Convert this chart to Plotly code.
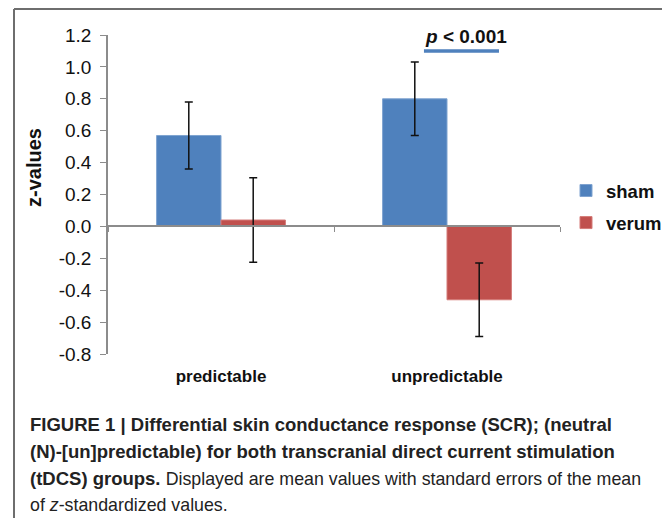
import plotly.graph_objects as go

categories = ["predictable", "unpredictable"]
sham_values = [0.57, 0.80]
sham_errors = [0.21, 0.23]
verum_values = [0.04, -0.46]
verum_errors = [0.265, 0.23]
y_tickvals = [1.2, 1.0, 0.8, 0.6, 0.4, 0.2, 0.0, -0.2, -0.4, -0.6, -0.8]
y_ticktext = ["1.2", "1.0", "0.8", "0.6", "0.4", "0.2", "0.0", "-0.2", "-0.4", "-0.6", "-0.8"]
y_title = "<b>z-values</b>"
sig_text = "<b><i>p</i> < 0.001</b>"
sig_level = 1.1
REG = "<span style='font-size:17.8px'>"
caption_lines = [
    "<b>FIGURE 1 | Differential skin conductance response (SCR); (neutral</b>",
    "<b>(N)-[un]predictable) for both transcranial direct current stimulation</b>",
    "<b>(tDCS) groups.</b> " + REG + "Displayed are mean values with standard errors of the mean</span>",
    REG + "of <i>z</i>-standardized values.</span>",
]

FONT = "Liberation Sans, Arial, sans-serif"

# the page body has an 8px margin, so the figure is 8px smaller than the window
PAGE_OFF = 8
PLOT_L, PLOT_T, PLOT_W, PLOT_H = 108, 35, 452, 319
FIG_W, FIG_H = 670 - PAGE_OFF, 519 - PAGE_OFF


def px(xr):
    return (xr - PLOT_L) / PLOT_W


def py(yr):
    return (PLOT_T + PLOT_H - yr) / PLOT_H


fig = go.Figure()
fig.add_trace(go.Bar(
    x=categories, y=sham_values, name="sham", marker_color="#4F81BD",
    marker_line=dict(color="#7FA3D0", width=1),
    error_y=dict(type="data", array=sham_errors, color="#111", thickness=1.5, width=4),
    legendgroup="a",
))
fig.add_trace(go.Bar(
    x=categories, y=verum_values, name="verum", marker_color="#C0504D",
    marker_line=dict(color="#D47B78", width=1),
    error_y=dict(type="data", array=verum_errors, color="#111", thickness=1.5, width=4),
    legendgroup="b",
))
# helper trace for the axis line at zero with boundary ticks
fig.add_trace(go.Scatter(x=categories, y=[0, 0], xaxis="x2", mode="lines",
                         line=dict(width=0), opacity=0, showlegend=False, hoverinfo="skip"))

fig.update_layout(
    width=FIG_W, height=FIG_H,
    margin=dict(l=PLOT_L - PAGE_OFF, r=FIG_W - (PLOT_L - PAGE_OFF) - PLOT_W,
                t=PLOT_T - PAGE_OFF, b=FIG_H - (PLOT_T - PAGE_OFF) - PLOT_H, autoexpand=False),
    paper_bgcolor="white", plot_bgcolor="white",
    barmode="group", bargap=0.43, bargroupgap=0,
    font=dict(family=FONT, color="#111"),
    showlegend=True,
    legend=dict(x=px(566), y=py(172), xanchor="left", yanchor="top",
                font=dict(size=18.5, family=FONT, color="#111", weight="bold"),
                tracegroupgap=5, itemwidth=30, bgcolor="rgba(0,0,0,0)"),
    xaxis=dict(showline=False, ticks="", showgrid=False, zeroline=False, automargin=False,
               tickfont=dict(size=17, family=FONT, color="#111", weight="bold"),
               ticklabelstandoff=10),
    xaxis2=dict(overlaying="x", matches="x", anchor="free", position=0.4, automargin=False,
                showline=True, linecolor="#8c8c8c", linewidth=1.5,
                ticks="outside", tickson="boundaries", ticklen=5, tickcolor="#8c8c8c",
                showticklabels=False, showgrid=False, zeroline=False),
    yaxis=dict(range=[-0.8, 1.2], tickvals=y_tickvals, ticktext=y_ticktext, automargin=False,
               showline=True, linecolor="#8c8c8c", linewidth=1.5,
               ticks="outside", ticklen=6, tickcolor="#8c8c8c",
               showgrid=False, zeroline=False, ticklabelstandoff=5,
               tickfont=dict(size=19, family=FONT, color="#111")),
)

# y axis title (placed above the axis centre, as in the original)
fig.add_annotation(xref="paper", yref="paper", x=px(34), y=py(168), text=y_title,
                   textangle=-90, showarrow=False, xanchor="center", yanchor="middle",
                   font=dict(size=20, family=FONT, color="#111"))

fig.add_shape(type="line", xref="x", yref="y", x0=0.898, x1=1.23, y0=sig_level, y1=sig_level,
              line=dict(color="#4F81BD", width=3.5))
fig.add_annotation(xref="x", yref="paper", x=1.085, y=py(36), text=sig_text,
                   yanchor="middle", showarrow=False, font=dict(size=19, family=FONT, color="#111"))

# frame (left, top, right edges; the bottom runs off the page)
FRAME = dict(color="#6e6e6e", width=2)
fx0, fx1, fy0, fy1 = px(14), px(666), py(518), py(9)
fig.add_shape(type="line", xref="paper", yref="paper", x0=fx0, x1=fx0, y0=fy0, y1=fy1, line=FRAME)
fig.add_shape(type="line", xref="paper", yref="paper", x0=fx0, x1=fx1, y0=fy1, y1=fy1, line=FRAME)
fig.add_shape(type="line", xref="paper", yref="paper", x0=fx1, x1=fx1, y0=fy0, y1=fy1, line=FRAME)

cap_y = [424, 451, 478, 505]
for txt, yy in zip(caption_lines, cap_y):
    fig.add_annotation(xref="paper", yref="paper", x=px(28), y=py(yy),
                       xanchor="left", yanchor="middle", text=txt, showarrow=False,
                       font=dict(size=18.5, family=FONT, color="#222"), align="left")

fig.write_html("out.html")
